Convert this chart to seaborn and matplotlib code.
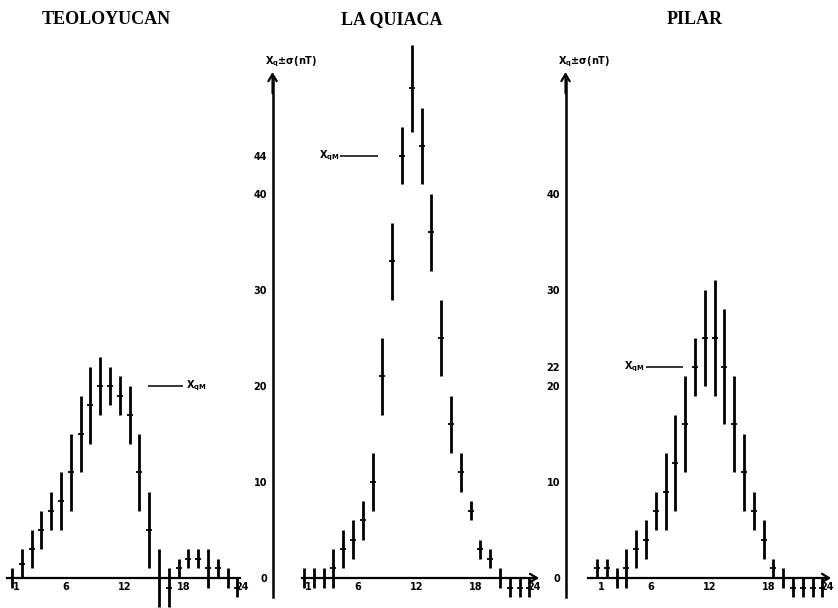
import numpy as np
import matplotlib
matplotlib.use("Agg")
import matplotlib.pyplot as plt
import seaborn as sns

# ---------------------------
# Data: hourly Xq mean and sigma (nT)
# ---------------------------
hour_mid = np.arange(24) + 0.5
hour_ticks = [1, 6, 12, 18, 24]

teo_mean = [0, 1.5, 3, 5, 7, 8, 11, 15, 18, 20, 20, 19, 17, 11, 5, 0, -1, 1, 2, 2, 1, 1, 0, -1]
teo_sd = [1, 1.5, 2, 2, 2, 3, 4, 4, 4, 3, 2, 2, 3, 4, 4, 3, 2, 1, 1, 1, 2, 1, 1, 1]

quiaca_mean = [0, 0, 0, 1, 3, 4, 6, 10, 21, 33, 44, 51, 45, 36, 25, 16, 11, 7, 3, 2, 0, -1, -1, -1]
quiaca_sd = [1, 1, 1, 2, 2, 2, 2, 3, 4, 4, 3, 4.5, 4, 4, 4, 3, 2, 1, 1, 1, 1, 1, 1, 1]

pilar_mean = [1, 1, 0, 1, 3, 4, 7, 9, 12, 16, 22, 25, 25, 22, 16, 11, 7, 4, 1, 0, -1, -1, -1, -1]
pilar_sd = [1, 1, 1, 2, 2, 2, 2, 4, 5, 5, 3, 5, 6, 6, 5, 4, 2, 2, 1, 1, 1, 1, 1, 1]

stations = ["TEOLOYUCAN", "LA QUIACA", "PILAR"]
xqm = [20, 44, 22]
yticks = [[], [0, 10, 20, 30, 40, 44], [0, 10, 20, 22, 30, 40]]

# ---------------------------
# Layout (pixel based, so all three panels share one scale)
# ---------------------------
sns.set_style("white")
plt.rcParams["font.family"] = ["DejaVu Sans"]
plt.rcParams["font.weight"] = "bold"
for key in ["text.color", "axes.labelcolor", "xtick.color", "ytick.color", "axes.edgecolor"]:
    plt.rcParams[key] = "black"

W, H = 838, 608
PX_HOUR, PX_UNIT, ZERO_Y = 9.8, 9.6, 578

fig = plt.figure(figsize=(W / 100, H / 100), dpi=100)


def add_panel(left, right, x0):
    ax = fig.add_axes([left / W, 0, (right - left) / W, 1])
    ax.set_xlim((left - x0) / PX_HOUR, (right - x0) / PX_HOUR)
    ax.set_ylim((ZERO_Y - H) / PX_UNIT, ZERO_Y / PX_UNIT)
    ax.patch.set_alpha(0)
    return ax


axes = [add_panel(0, 250, 7), add_panel(250, 545, 299), add_panel(545, 838, 592)]
means = [teo_mean, quiaca_mean, pilar_mean]
sds = [teo_sd, quiaca_sd, pilar_sd]
xaxis_span = [(0, 23.8), (0.3, 24.2), (-0.4, 24.1)]
xqm_line = [(14.4, 18.0), (4.2, 8.1), (5.5, 9.3)]
arrow = dict(arrowstyle="->,head_length=0.5,head_width=0.3", lw=1.6, color="black",
             shrinkA=0, shrinkB=0)

for i, ax in enumerate(axes):
    ax.errorbar(hour_mid, means[i], yerr=sds[i], fmt="none", ecolor="black",
                elinewidth=2.0, capsize=0)
    sns.scatterplot(x=hour_mid, y=means[i], marker="_", s=24, color="black",
                    linewidth=1.3, ax=ax, legend=False)

    for s in ["top", "right"]:
        ax.spines[s].set_visible(False)
    ax.spines["bottom"].set_position(("data", 0))
    ax.spines["bottom"].set_bounds(*xaxis_span[i])
    ax.spines["bottom"].set_linewidth(1.6)
    ax.set_xticks(hour_ticks)
    ax.tick_params(axis="x", direction="inout", length=4, width=1, pad=1, labelsize=7)

    if i == 0:
        ax.spines["left"].set_visible(False)
        ax.set_yticks([])
    else:
        ax.spines["left"].set_position(("data", -2.7))
        ax.spines["left"].set_bounds(-2, 52)
        ax.spines["left"].set_linewidth(1.8)
        ax.set_yticks(yticks[i])
        ax.tick_params(axis="y", direction="inout", length=4, width=1, pad=2, labelsize=7)
        ax.annotate("", xy=(-2.7, 52.7), xytext=(-2.7, 50.5), arrowprops=arrow)
        ax.annotate("", xy=(xaxis_span[i][1] + 0.3, 0), xytext=(xaxis_span[i][1] - 0.5, 0),
                    arrowprops=arrow)
        ax.text(-3.5, 53.8, r"X$_\mathregular{q}$±σ(nT)", fontsize=7, va="center", ha="left")

    ax.set_xlabel("")
    ax.set_ylabel("")

    # X_qM reference line
    x1, x2 = xqm_line[i]
    ax.hlines(xqm[i], x1, x2, color="black", lw=1.1)
    if i == 0:
        ax.text(x2 + 0.3, xqm[i], r"X$_\mathregular{qM}$", fontsize=7, va="center", ha="left")
    else:
        ax.text(x1 - 0.1, xqm[i], r"X$_\mathregular{qM}$", fontsize=7, va="center", ha="right")

# station names
title_x = [106, 392, 695]
for name, tx in zip(stations, title_x):
    fig.text(tx / W, 1 - 20 / H, name, ha="center", va="center", fontsize=13,
             family="Liberation Serif", fontweight="bold")

fig.savefig("out.png", dpi=100)
